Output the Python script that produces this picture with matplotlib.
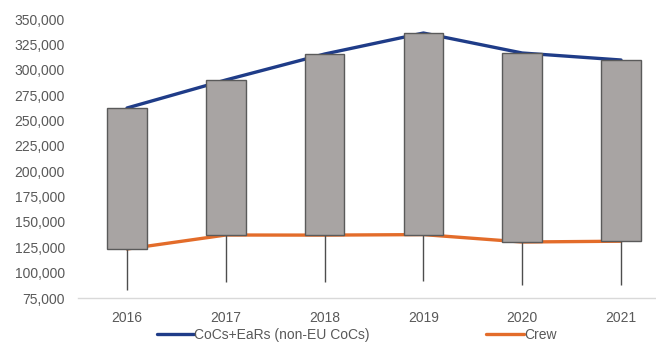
import matplotlib.pyplot as plt
from matplotlib.patches import Rectangle
from matplotlib.ticker import FuncFormatter

plt.rcParams['font.family'] = ['Liberation Sans', 'DejaVu Sans']

years = ["2016", "2017", "2018", "2019", "2020", "2021"]
cocs = [262300, 289900, 315500, 336200, 316500, 309600]
crew = [123300, 137100, 137000, 137500, 130200, 131000]
low = [82900, 90800, 91000, 91800, 87800, 87800]

text_col = "#595959"
box_w = 0.4

fig = plt.figure(figsize=(6.56, 3.44), dpi=100)
ax = fig.add_axes([0.1183, 0.1337, 0.9037, 0.8110])

x = list(range(len(years)))
ax.plot(x, cocs, color="#1F3C88", lw=2.4, solid_capstyle="round",
        label="CoCs+EaRs (non-EU CoCs)", zorder=2)
ax.plot(x, crew, color="#E36C2A", lw=2.4, solid_capstyle="round",
        label="Crew", zorder=2)

for i in x:
    ax.vlines(i, low[i], crew[i], color="#4D4D4D", lw=1.0, zorder=3)
    ax.add_patch(Rectangle((i - box_w / 2, crew[i]), box_w, cocs[i] - crew[i],
                           facecolor="#A8A4A3", edgecolor="#5A5A5A", lw=1.0, zorder=4))

ax.set_xlim(-0.5, 5.5)
ax.set_ylim(75000, 350000)
ax.set_yticks(range(75000, 350001, 25000))
ax.yaxis.set_major_formatter(FuncFormatter(lambda v, p: f"{int(v):,}"))
ax.set_xticks(x)
ax.set_xticklabels(years)
ax.tick_params(axis="both", length=0, labelsize=10, colors=text_col)
ax.tick_params(axis="y", pad=9)
ax.tick_params(axis="x", pad=9)

for s in ["top", "right", "left"]:
    ax.spines[s].set_visible(False)
ax.spines["bottom"].set_color("#D9D9D9")
ax.spines["bottom"].set_linewidth(1.0)

leg = fig.legend(loc="center", bbox_to_anchor=(0.5435, 0.026), ncol=2, frameon=False,
                 fontsize=10, handlelength=2.7, handletextpad=0.0, columnspacing=8.4,
                 borderaxespad=0)
for t in leg.get_texts():
    t.set_color(text_col)

fig.savefig("out.png", dpi=100)
